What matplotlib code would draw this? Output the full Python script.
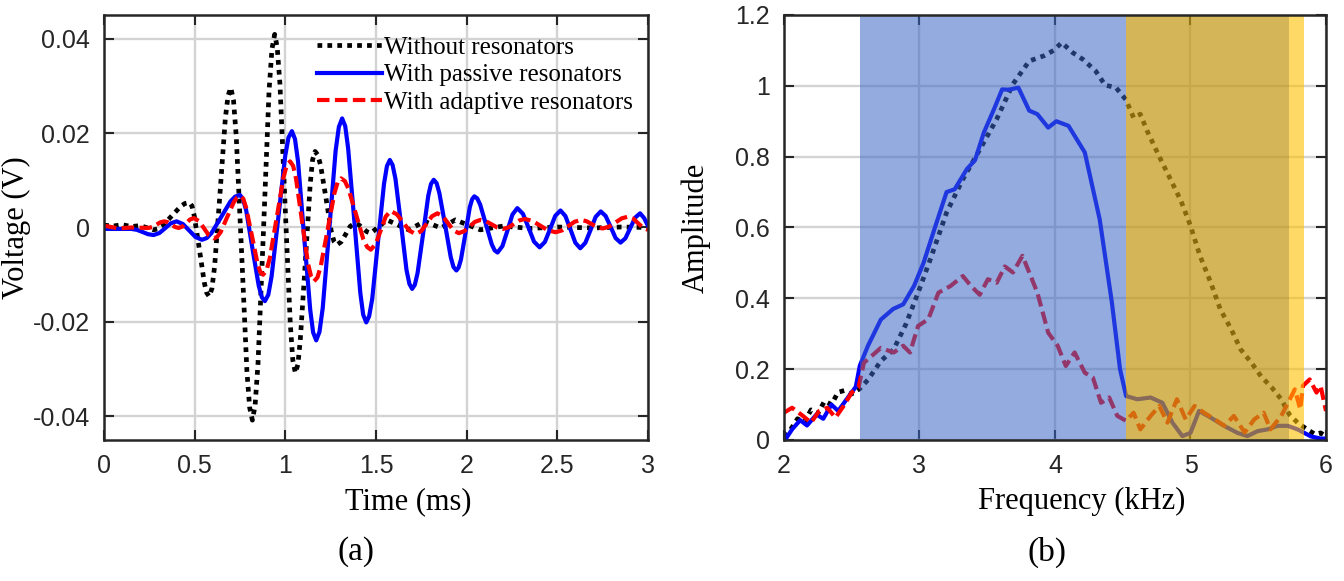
import numpy as np
import matplotlib
matplotlib.use("Agg")
import matplotlib.pyplot as plt

# ---- panel (a): time signals (t in ms, voltage in mV) ----
without_t = [0.00, 0.05, 0.10, 0.15, 0.20, 0.236, 0.273, 0.298, 0.323, 0.372, 0.422, 0.446, 0.471, 0.485,
             0.498, 0.526, 0.553, 0.566, 0.580, 0.595, 0.610, 0.640, 0.669, 0.684, 0.699, 0.714, 0.729,
             0.759, 0.788, 0.803, 0.818, 0.833, 0.849, 0.880, 0.910, 0.926, 0.941, 0.955, 0.970, 0.998,
             1.027, 1.041, 1.055, 1.069, 1.082, 1.110, 1.137, 1.150, 1.164, 1.179, 1.194, 1.224, 1.253,
             1.268, 1.283, 1.308, 1.333, 1.357, 1.382, 1.404, 1.427, 1.449, 1.471, 1.516, 1.560, 1.620,
             1.679, 1.724, 1.768, 1.812, 1.857, 1.897, 1.937, 2.006, 2.075, 2.20, 2.35, 2.50, 2.70,
             2.85, 3.00]
without_mv = [0.5, 0.3, 0.6, 0.2, 0.4, -0.05, -0.5, -0.28, 0.35, 2.4, 4.45, 5.08, 5.3, 4.54,
              2.39, -4.65, -11.69, -13.84, -14.6, -12.92, -8.15, 7.5, 23.15, 27.92, 29.6, 26.92, 19.32,
              -5.6, -30.52, -38.12, -40.8, -37.7, -28.87, 0.05, 28.97, 37.8, 40.9, 38.18, 30.43, 5.05,
              -20.33, -28.08, -30.8, -29.02, -23.95, -7.35, 9.25, 14.32, 16.1, 15.35, 13.21, 6.2, -0.81,
              -2.95, -3.7, -3.03, -1.4, 0.23, 0.9, 0.59, -0.15, -0.89, -1.2, 0.2, 1.6, 0.55,
              -0.5, 0.4, 1.3, 0.6, -0.1, 0.75, 1.6, 0.55, -0.5, 0.3, -0.2, 0.1, -0.1,
              0.1, 0.0]

passive_t = [0.00, 0.15, 0.181, 0.212, 0.242, 0.273, 0.305, 0.337, 0.368, 0.40, 0.435, 0.47, 0.505, 0.54,
             0.566, 0.592, 0.645, 0.697, 0.723, 0.749, 0.766, 0.784, 0.818, 0.853, 0.870, 0.887, 0.906,
             0.924, 0.962, 0.999, 1.017, 1.036, 1.053, 1.070, 1.103, 1.137, 1.153, 1.170, 1.188, 1.206,
             1.242, 1.277, 1.295, 1.313, 1.330, 1.346, 1.380, 1.413, 1.429, 1.446, 1.462, 1.479, 1.511,
             1.544, 1.560, 1.576, 1.591, 1.607, 1.638, 1.668, 1.684, 1.699, 1.714, 1.729, 1.759, 1.788,
             1.803, 1.818, 1.834, 1.849, 1.881, 1.912, 1.927, 1.943, 1.955, 1.968, 1.993, 2.017, 2.030,
             2.042, 2.058, 2.074, 2.106, 2.138, 2.154, 2.170, 2.197, 2.225, 2.252, 2.279, 2.310, 2.341,
             2.371, 2.402, 2.431, 2.460, 2.488, 2.517, 2.544, 2.572, 2.599, 2.626, 2.654, 2.683, 2.711,
             2.739, 2.766, 2.794, 2.821, 2.848, 2.875, 2.902, 2.929, 2.956, 2.978, 3.00]
passive_mv = [-0.3, -0.3, -0.49, -0.95, -1.41, -1.6, -1.18, -0.15, 0.88, 1.3, 0.73, -0.65, -2.03, -2.6,
              -2.24, -1.21, 2.15, 5.51, 6.54, 6.9, 6.05, 3.61, -4.35, -12.32, -14.75, -15.6, -14.23,
              -10.34, 2.4, 15.14, 19.03, 20.4, 18.72, 13.93, -1.75, -17.43, -22.22, -23.9, -22.11, -17.04,
              -0.4, 16.24, 21.31, 23.1, 21.46, 16.79, 1.5, -13.79, -18.46, -20.1, -18.79, -15.08, -2.9,
              9.28, 12.99, 14.3, 13.26, 10.31, 0.65, -9.01, -11.96, -13.0, -12.12, -9.63, -1.45, 6.73,
              9.22, 10.1, 9.37, 7.3, 0.5, -6.3, -8.37, -9.1, -8.5, -6.81, -1.25, 4.31, 6.0,
              6.6, 6.15, 4.86, 0.65, -3.56, -4.85, -5.3, -3.93, -0.6, 2.73, 4.1, 2.89, -0.05,
              -2.99, -4.2, -3.06, -0.3, 2.46, 3.6, 2.43, -0.4, -3.23, -4.4, -3.26, -0.5, 2.26,
              3.4, 2.44, 0.1, -2.24, -3.2, -2.29, -0.1, 2.09, 3.0, 2.0, 0.3]

adaptive_t = [0.00, 0.08, 0.15, 0.197, 0.244, 0.266, 0.289, 0.311, 0.333, 0.353, 0.373, 0.392, 0.412,
              0.433, 0.454, 0.474, 0.495, 0.523, 0.551, 0.578, 0.606, 0.624, 0.643, 0.679, 0.716, 0.734,
              0.752, 0.768, 0.783, 0.815, 0.846, 0.861, 0.877, 0.896, 0.914, 0.952, 0.989, 1.007, 1.026,
              1.043, 1.059, 1.092, 1.125, 1.142, 1.158, 1.177, 1.195, 1.233, 1.270, 1.288, 1.307, 1.328,
              1.348, 1.389, 1.430, 1.451, 1.471, 1.498, 1.526, 1.553, 1.580, 1.615, 1.650, 1.684, 1.719,
              1.749, 1.779, 1.808, 1.838, 1.868, 1.897, 1.927, 1.956, 1.986, 2.016, 2.045, 2.075, 2.106,
              2.138, 2.169, 2.20, 2.23, 2.26, 2.29, 2.32, 2.363, 2.405, 2.448, 2.49, 2.525, 2.56,
              2.595, 2.63, 2.66, 2.69, 2.72, 2.75, 2.785, 2.82, 2.855, 2.89, 2.918, 2.945, 2.973, 3.00]
adaptive_mv = [0.4, -0.2, 0.0, -0.05, -0.1, 0.1, 0.6, 1.1, 1.3, 1.1, 0.6, 0.1, -0.1,
               0.21, 0.95, 1.69, 2.0, 1.37, -0.15, -1.67, -2.3, -1.96, -0.99, 2.2, 5.39, 6.36,
               6.7, 6.07, 4.26, -1.65, -7.56, -9.37, -10.0, -9.09, -6.5, 2.0, 10.5, 13.09, 14.0,
               13.03, 10.29, 1.3, -7.69, -10.43, -11.4, -10.57, -8.22, -0.5, 7.22, 9.57, 10.4, 9.83,
               8.2, 2.85, -2.5, -4.13, -4.7, -3.5, -0.6, 2.3, 3.5, 2.78, 1.05, -0.68, -1.4,
               -0.76, 0.8, 2.36, 3.0, 2.39, 0.9, -0.59, -1.2, -0.79, 0.2, 1.19, 1.6, 1.32,
               0.65, -0.02, -0.3, 0.01, 0.75, 1.49, 1.8, 1.39, 0.4, -0.59, -1.0, -0.62, 0.3,
               1.22, 1.6, 1.34, 0.7, 0.06, -0.2, 0.17, 1.05, 1.94, 2.3, 1.89, 0.9, -0.09, -0.5]

# ---- panel (b): spectra (frequency in kHz) ----
freq_without = [2.0, 2.05, 2.10, 2.15, 2.20, 2.25, 2.30, 2.35, 2.40, 2.45, 2.50, 2.56, 2.62, 2.715,
                2.81, 2.90, 2.99, 3.08, 3.20, 3.32, 3.445, 3.57, 3.69, 3.81, 3.92, 3.99, 4.05, 4.13,
                4.205, 4.30, 4.37, 4.45, 4.525, 4.58, 4.63, 4.68, 4.77, 4.86, 4.93, 5.0, 5.07, 5.15,
                5.22, 5.30, 5.37, 5.45, 5.52, 5.60, 5.67, 5.73, 5.79, 5.86, 5.92, 5.96, 6.0]
amp_without = [0.01, 0.03, 0.06, 0.05, 0.085, 0.075, 0.11, 0.10, 0.135, 0.14, 0.13, 0.145, 0.17, 0.223,
               0.256, 0.327, 0.416, 0.51, 0.642, 0.736, 0.82, 0.906, 1.005, 1.07, 1.085, 1.10, 1.122, 1.094,
               1.075, 1.042, 1.002, 0.995, 0.96, 0.91, 0.92, 0.873, 0.80, 0.73, 0.675, 0.605, 0.52, 0.444,
               0.369, 0.313, 0.256, 0.218, 0.18, 0.148, 0.115, 0.072, 0.049, 0.03, 0.016, 0.02, 0.011]

freq_passive = [2.0, 2.015, 2.06, 2.12, 2.17, 2.24, 2.29, 2.35, 2.40, 2.48, 2.53, 2.56, 2.62, 2.715,
                2.806, 2.88, 2.96, 3.03, 3.11, 3.20, 3.26, 3.35, 3.41, 3.475, 3.55, 3.61, 3.66, 3.73,
                3.81, 3.87, 3.95, 4.01, 4.10, 4.22, 4.33, 4.42, 4.48, 4.525, 4.608, 4.706, 4.793,
                4.867, 4.94, 5.0, 5.063, 5.15, 5.248, 5.347, 5.42, 5.495, 5.569, 5.643, 5.717, 5.79,
                5.84, 5.89, 5.96, 6.0]
amp_passive = [0.02, 0.004, 0.03, 0.056, 0.041, 0.072, 0.06, 0.10, 0.082, 0.124, 0.15, 0.21, 0.266, 0.34,
               0.37, 0.383, 0.435, 0.50, 0.595, 0.70, 0.708, 0.765, 0.79, 0.868, 0.934, 0.99, 0.989, 0.995,
               0.93, 0.92, 0.882, 0.90, 0.887, 0.812, 0.623, 0.388, 0.20, 0.124, 0.115, 0.12, 0.105,
               0.049, 0.011, 0.02, 0.082, 0.063, 0.04, 0.02, 0.011, 0.025, 0.03, 0.04, 0.04, 0.03,
               0.02, 0.01, 0.004, 0.004]

freq_adaptive = [2.0, 2.06, 2.14, 2.20, 2.26, 2.32, 2.38, 2.44, 2.50, 2.55, 2.59, 2.62, 2.715, 2.81,
                 2.88, 2.93, 2.99, 3.065, 3.14, 3.23, 3.32, 3.38, 3.445, 3.505, 3.57, 3.63, 3.69, 3.76,
                 3.81, 3.87, 3.95, 4.02, 4.08, 4.145, 4.22, 4.28, 4.34, 4.40, 4.46, 4.525, 4.58, 4.63,
                 4.706, 4.77, 4.83, 4.90, 4.965, 5.03, 5.10, 5.18, 5.25, 5.32, 5.40, 5.47, 5.54, 5.59,
                 5.67, 5.72, 5.77, 5.81, 5.83, 5.88, 5.93, 5.96, 6.0]
amp_adaptive = [0.077, 0.091, 0.068, 0.049, 0.082, 0.091, 0.063, 0.096, 0.134, 0.148, 0.218, 0.228, 0.26, 0.247,
                0.266, 0.247, 0.322, 0.341, 0.416, 0.435, 0.463, 0.435, 0.41, 0.454, 0.444, 0.49, 0.473, 0.52,
                0.473, 0.416, 0.303, 0.266, 0.209, 0.247, 0.19, 0.176, 0.105, 0.12, 0.068, 0.054, 0.077, 0.03,
                0.068, 0.096, 0.049, 0.115, 0.058, 0.096, 0.077, 0.058, 0.04, 0.068, 0.021, 0.058, 0.077, 0.03,
                0.068, 0.105, 0.143, 0.087, 0.153, 0.171, 0.134, 0.153, 0.082]

# shaded frequency bands (kHz)
blue_band = (2.563, 4.525)
gold_band = (4.525, 5.727)
yellow_band = (5.727, 5.839)

labels = ["Without resonators", "With passive resonators", "With adaptive resonators"]

plt.rcParams["axes.unicode_minus"] = False
serif = "Liberation Serif"
sans = "Liberation Sans"

fig = plt.figure(figsize=(13.44, 5.81), dpi=100)
ax1 = fig.add_axes([0.0774, 0.2427, 0.4048, 0.7315])
ax2 = fig.add_axes([0.5833, 0.2427, 0.4033, 0.7315])

dot = (0, (1, 1.1))
dash = (0, (3, 1.3))
line_kw = dict(solid_joinstyle="round", dash_joinstyle="round")


def style_axes(ax):
    ax.grid(True, color="#d3d3d3", lw=1.7, zorder=0)
    ax.set_axisbelow(True)
    ax.tick_params(direction="in", top=True, right=True, length=7, width=1.5,
                   labelsize=18, colors="#262626", pad=10)
    for lab in ax.get_xticklabels() + ax.get_yticklabels():
        lab.set_fontfamily(sans)
    for s in ax.spines.values():
        s.set_linewidth(1.8)
        s.set_color("#262626")
        s.set_zorder(5)


# panel (a)
ax1.plot(without_t, np.array(without_mv) / 1000, color="black", lw=3.4, ls=dot, label=labels[0], **line_kw)
ax1.plot(passive_t, np.array(passive_mv) / 1000, color="#0000ff", lw=3.0, label=labels[1], **line_kw)
ax1.plot(adaptive_t, np.array(adaptive_mv) / 1000, color="#ff0000", lw=3.0, ls=dash, label=labels[2], **line_kw)
ax1.set_xlim(0, 3)
ax1.set_ylim(-0.045, 0.045)
ax1.set_xticks([0, 0.5, 1, 1.5, 2, 2.5, 3])
ax1.set_xticklabels(["0", "0.5", "1", "1.5", "2", "2.5", "3"])
ax1.set_yticks([-0.04, -0.02, 0, 0.02, 0.04])
ax1.set_yticklabels(["-0.04", "-0.02", "0", "0.02", "0.04"])
style_axes(ax1)
ax1.set_xlabel("Time (ms)", fontfamily=serif, fontsize=22)
ax1.set_ylabel("Voltage (V)", fontfamily=serif, fontsize=22)
ax1.xaxis.set_label_coords(0.56, -0.11)
ax1.yaxis.set_label_coords(-0.135, 0.5)
ax1.legend(loc="upper right", bbox_to_anchor=(1.0, 0.985), frameon=False, handlelength=2.6,
           handletextpad=0.1, labelspacing=0.2, borderaxespad=0.2,
           prop={"family": serif, "size": 18})

# panel (b)
ax2.plot(freq_without, amp_without, color="black", lw=3.4, ls=dot, zorder=1, **line_kw)
ax2.plot(freq_passive, amp_passive, color="#0000ff", lw=3.0, zorder=1, **line_kw)
ax2.plot(freq_adaptive, amp_adaptive, color="#ff0000", lw=3.0, ls=dash, zorder=1, **line_kw)
ax2.axvspan(*blue_band, color="#3a66c4", alpha=0.55, lw=0, zorder=2)
ax2.axvspan(*gold_band, color="#c29813", alpha=0.7, lw=0, zorder=2)
ax2.axvspan(*yellow_band, color="#ffc000", alpha=0.6, lw=0, zorder=2)
ax2.set_xlim(2, 6)
ax2.set_ylim(0, 1.2)
ax2.set_xticks([2, 3, 4, 5, 6])
ax2.set_yticks([0, 0.2, 0.4, 0.6, 0.8, 1.0, 1.2])
ax2.set_yticklabels(["0", "0.2", "0.4", "0.6", "0.8", "1", "1.2"])
style_axes(ax2)
ax2.set_xlabel("Frequency (kHz)", fontfamily=serif, fontsize=22)
ax2.set_ylabel("Amplitude", fontfamily=serif, fontsize=22)
ax2.xaxis.set_label_coords(0.55, -0.11)
ax2.yaxis.set_label_coords(-0.135, 0.5)

fig.text(0.265, 0.05, "(a)", fontfamily=serif, fontsize=24, ha="center", va="center")
fig.text(0.779, 0.05, "(b)", fontfamily=serif, fontsize=24, ha="center", va="center")

fig.savefig("out.png", dpi=100)
